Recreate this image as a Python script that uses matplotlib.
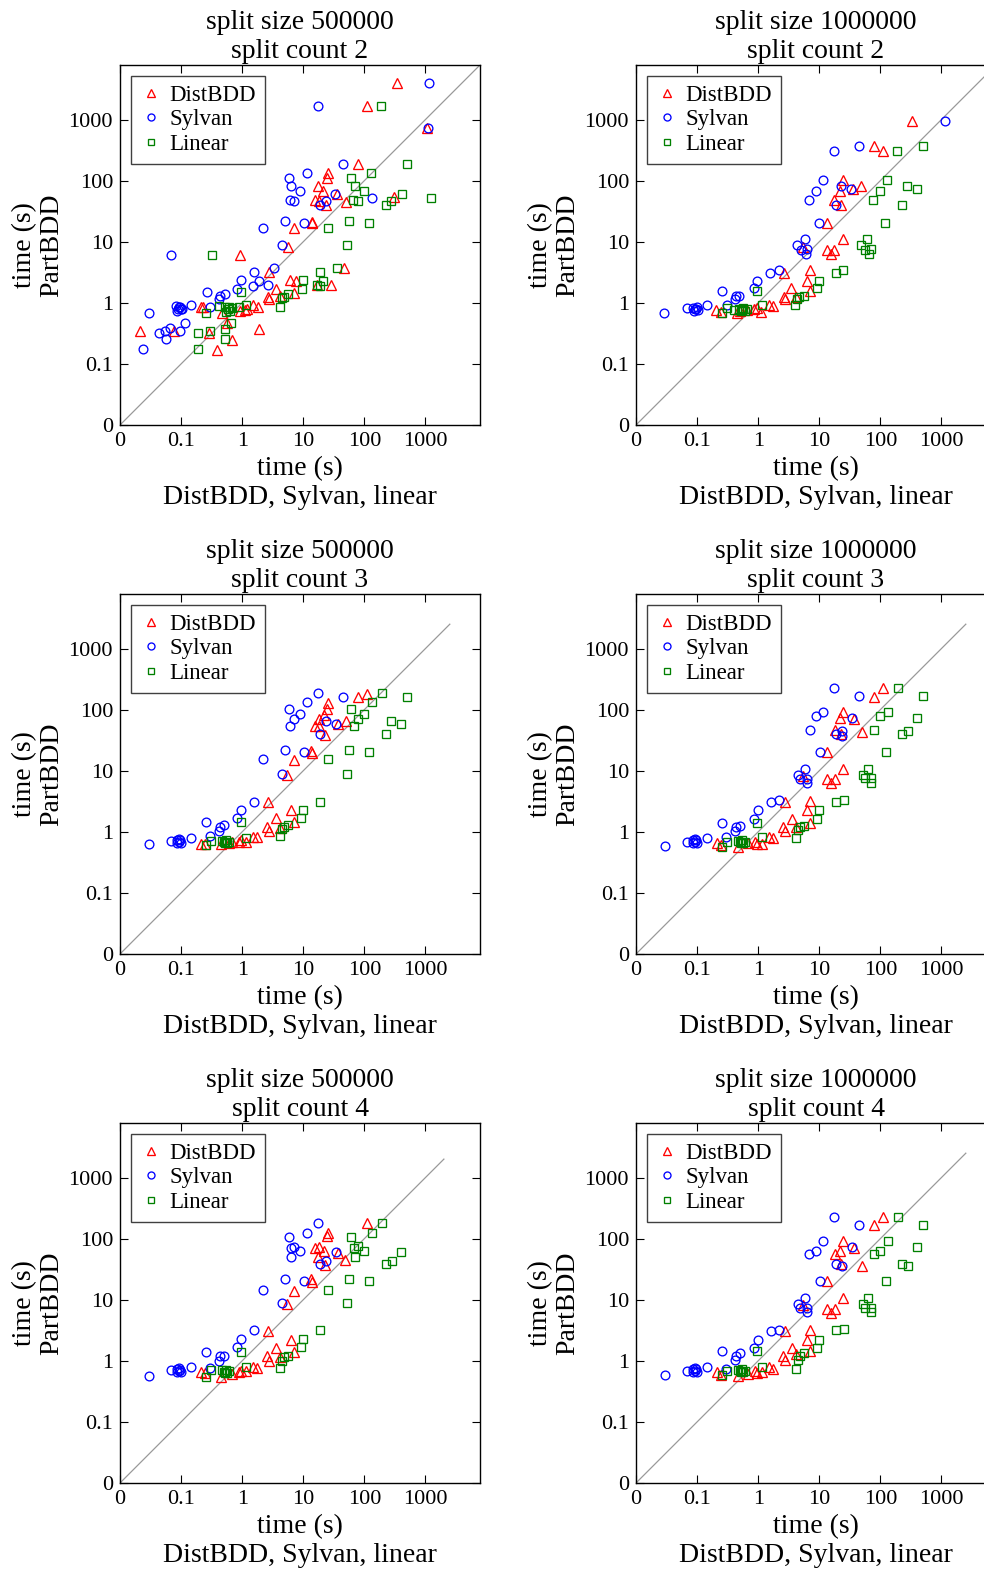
import matplotlib
matplotlib.use('Agg')
import matplotlib.pyplot as plt

plt.rcParams['font.family'] = ['Liberation Serif', 'DejaVu Serif']

# ---------------- data ----------------
split_sizes = [500000, 1000000]
split_counts = [2, 3, 4]
tick_values = [0.01, 0.1, 1, 10, 100, 1000]
tick_labels = ['0', '0.1', '1', '10', '100', '1000']
series_names = ['DistBDD', 'Sylvan', 'Linear']

# split size 500000, split count 2
p1_dist_x = [340, 110, 1050, 80, 25, 24, 17.5, 21, 15.5, 18, 23.5, 35, 50, 310, 13.7, 14, 7.1, 5.6, 0.92, 47,
             2.7, 6.1, 7.5, 28, 3.6, 7.0, 2.6, 2.75, 4.1, 0.21, 0.23, 0.46, 0.92, 1.18, 1.5, 1.8, 0.57, 1.87,
             0.021, 0.076, 0.29, 0.69, 0.38, 1.1, 17]
p1_dist_y = [4000, 1650, 730, 185, 135, 112, 82, 68, 48, 46, 40, 60, 45, 53, 21.4, 20, 16.6, 8.3, 6.0, 3.7,
             3.2, 2.35, 2.3, 1.95, 1.7, 1.45, 1.26, 1.15, 1.3, 0.84, 0.84, 0.67, 0.74, 0.78, 0.91, 0.84, 0.46, 0.37,
             0.35, 0.34, 0.32, 0.25, 0.17, 0.75, 1.95]
p1_syl_x = [1130, 17.5, 1100, 44, 11.7, 5.8, 6.2, 8.8, 33, 6.0, 7.0, 23.6, 19, 132, 5.0, 10.2, 2.2, 4.4, 0.069,
            3.3, 1.58, 0.96, 1.9, 2.6, 1.5, 0.83, 0.27, 0.52, 0.44, 0.42, 0.147, 0.30, 0.083, 0.092, 0.098, 0.086,
            0.105, 0.095, 0.089, 0.030, 0.114, 0.067, 0.095, 0.054, 0.044, 0.057, 0.024]
p1_syl_y = [4000, 1670, 730, 186, 135, 112, 83, 68, 61, 48, 46, 46, 40, 52, 22, 20.5, 16.6, 8.7, 6.0, 3.7,
            3.2, 2.35, 2.3, 1.95, 1.9, 1.7, 1.5, 1.38, 1.29, 1.16, 0.92, 0.84, 0.90, 0.84, 0.78, 0.74,
            0.78, 0.86, 0.80, 0.69, 0.46, 0.38, 0.35, 0.35, 0.32, 0.26, 0.175]
p1_lin_x = [190, 500, 129, 61, 70, 100, 405, 1250, 66, 79, 270, 228, 57, 121, 25, 51, 0.32, 35, 18.7, 10,
            21, 17, 18.7, 9.4, 0.94, 5.6, 4.9, 4.5, 1.17, 0.42, 4.1, 0.26, 0.53, 0.58, 0.64, 0.55, 0.69, 0.6,
            0.65, 0.30, 0.19, 0.53, 0.52, 0.19, 0.9]
p1_lin_y = [1670, 186, 135, 112, 83, 68, 61, 51, 48, 46, 46, 40, 22, 20.5, 16.6, 8.7, 6.0, 3.7, 3.2, 2.35,
            2.3, 1.95, 1.9, 1.7, 1.5, 1.38, 1.26, 1.18, 0.93, 0.89, 0.84, 0.67, 0.84, 0.78, 0.74, 0.72, 0.82, 0.86,
            0.46, 0.35, 0.32, 0.37, 0.26, 0.175, 0.85]

# split size 1000000, split count 2
p2_dist_x = [335, 78, 110, 24.5, 48, 35.5, 21.5, 17.7, 23, 13.4, 24, 5.4, 13.4, 17.7, 15.6, 7.0, 2.65, 6.2,
             3.5, 7.0, 2.6, 2.7, 4.2, 1.49, 1.78, 0.205, 0.245, 0.45, 0.84, 0.95, 1.12, 0.65, 0.5]
p2_dist_y = [950, 370, 308, 102, 83, 74, 68, 49, 40, 20.5, 11, 8.3, 7.3, 7.3, 6.4, 3.45, 3.1, 2.3,
             1.73, 1.55, 1.26, 1.15, 1.23, 0.91, 0.89, 0.76, 0.71, 0.67, 0.79, 0.81, 0.71, 0.76, 0.74]
p2_syl_x = [1120, 44, 17.3, 11.5, 23, 33, 8.7, 6.9, 18.8, 10, 5.8, 4.3, 5.0, 6.2, 6.0, 2.2, 1.55, 0.96, 0.84,
            0.26, 0.49, 0.42, 0.44, 0.31, 0.145, 0.068, 0.085, 0.093, 0.1, 0.105, 0.089, 0.095, 0.029]
p2_syl_y = [950, 370, 308, 102, 83, 74, 68, 49, 40, 20.5, 11, 8.8, 7.3, 7.5, 6.4, 3.5, 3.1, 2.3, 1.73,
            1.55, 1.3, 1.16, 1.28, 0.91, 0.92, 0.82, 0.81, 0.78, 0.84, 0.76, 0.74, 0.79, 0.69]
p2_lin_x = [490, 186, 126, 270, 400, 98, 77, 225, 120, 60, 49, 56, 69, 66, 24.7, 18.6, 10, 9.3, 0.95, 5.6,
            4.7, 4.3, 4.0, 1.15, 0.31, 0.49, 0.54, 0.57, 0.61, 0.52, 0.65, 0.26, 0.4]
p2_lin_y = [370, 308, 102, 83, 74, 68, 49, 40, 20.5, 11, 8.8, 7.3, 7.5, 6.4, 3.5, 3.1, 2.3, 1.73, 1.55, 1.3,
            1.23, 1.15, 0.91, 0.92, 0.82, 0.78, 0.76, 0.81, 0.74, 0.73, 0.78, 0.69, 0.76]

# split size 500000, split count 3
p3_dist_x = [110, 79, 25, 24.7, 21.7, 18.3, 50, 37, 15.5, 18, 23, 13.5, 13.7, 7.1, 5.5, 2.64, 6.3, 3.6, 7.0,
             2.5, 2.75, 4.2, 1.78, 1.48, 1.14, 0.89, 0.97, 0.69, 0.45, 0.245, 0.21, 0.6]
p3_dist_y = [180, 160, 127, 102, 82, 69, 66, 58, 53, 53, 39, 21, 19.4, 15, 8.5, 3.1, 2.3, 1.66, 1.44,
             1.18, 1.05, 1.15, 0.83, 0.81, 0.69, 0.69, 0.73, 0.67, 0.63, 0.63, 0.63, 0.66]
p3_syl_x = [17.5, 45, 11.7, 5.9, 8.9, 7.0, 23.7, 34, 6.0, 19, 5.0, 10.1, 2.19, 4.4, 1.58, 0.96, 0.83, 0.26,
            0.51, 0.43, 0.42, 0.30, 0.145, 0.068, 0.085, 0.091, 0.096, 0.101, 0.087, 0.094, 0.030]
p3_syl_y = [186, 162, 132, 104, 85, 71, 66, 58, 54, 40, 22, 20, 15.5, 8.7, 3.1, 2.3, 1.66, 1.44,
            1.29, 1.18, 1.05, 0.86, 0.80, 0.72, 0.74, 0.69, 0.74, 0.66, 0.65, 0.77, 0.64]
p3_lin_x = [194, 500, 131, 61, 100, 78, 275, 400, 68, 227, 57, 121, 25, 51, 18.7, 10, 9.3, 0.96, 5.7, 4.8,
            4.4, 4.1, 1.15, 0.31, 0.47, 0.50, 0.54, 0.57, 0.52, 0.6, 0.26]
p3_lin_y = [186, 162, 132, 104, 85, 71, 66, 58, 54, 40, 22, 20, 15.5, 8.8, 3.1, 2.3, 1.66, 1.44, 1.29, 1.2,
            1.1, 0.86, 0.80, 0.72, 0.72, 0.68, 0.74, 0.66, 0.65, 0.69, 0.61]

# split size 1000000, split count 3
p4_dist_x = [112, 79, 24.6, 21.7, 37, 18.2, 23, 50, 13.5, 5.5, 24.6, 13.5, 18, 15.8, 7.1, 2.7, 6.3, 3.6, 7.0,
             2.5, 2.75, 4.2, 1.78, 1.48, 1.14, 0.89, 0.97, 0.69, 0.46, 0.245, 0.21]
p4_dist_y = [224, 163, 90, 74, 69, 47, 40, 43, 20, 8.3, 10.7, 7.4, 7.3, 6.2, 3.2, 3.1, 2.24, 1.59, 1.41,
             1.18, 1.05, 1.18, 0.78, 0.81, 0.63, 0.67, 0.63, 0.66, 0.56, 0.6, 0.66]
p4_syl_x = [17.5, 45, 11.7, 8.9, 34, 7.0, 23.7, 19, 23.7, 10.2, 5.9, 4.4, 4.9, 6.4, 6.2, 2.2, 1.59, 0.98, 0.84,
            0.26, 0.51, 0.44, 0.42, 0.30, 0.145, 0.068, 0.085, 0.091, 0.096, 0.101, 0.087, 0.094, 0.030]
p4_syl_y = [224, 165, 92, 78, 73, 47, 44, 40, 37, 20, 10.8, 8.5, 7.4, 7.4, 6.2, 3.3, 3.1, 2.24, 1.59,
            1.4, 1.24, 1.18, 1.02, 0.81, 0.80, 0.69, 0.74, 0.69, 0.74, 0.66, 0.65, 0.77, 0.58]
p4_lin_x = [194, 500, 131, 100, 400, 78, 278, 227, 122, 62, 51, 57, 71, 70, 25.6, 18.7, 10, 9.3, 0.96, 5.7,
            4.8, 4.4, 4.1, 1.15, 0.31, 0.47, 0.50, 0.54, 0.57, 0.52, 0.6, 0.26]
p4_lin_y = [224, 165, 92, 78, 73, 47, 44, 40, 20, 10.8, 8.5, 7.6, 7.5, 6.2, 3.3, 3.1, 2.24, 1.59, 1.41, 1.24,
            1.18, 1.06, 0.79, 0.81, 0.69, 0.72, 0.68, 0.74, 0.66, 0.65, 0.69, 0.57]

# split size 500000, split count 4
p5_dist_x = [110, 25, 24.7, 18, 15.5, 21.7, 37, 17.7, 49, 23, 13.5, 13.7, 7.1, 5.5, 2.64, 6.3, 3.6, 7.0, 2.5,
             2.75, 4.2, 1.78, 1.48, 1.14, 0.89, 0.97, 0.69, 0.45, 0.245, 0.21]
p5_dist_y = [180, 124, 110, 74, 70, 63, 58, 50, 44, 37, 21.5, 19.4, 14, 8.5, 3.1, 2.2, 1.63, 1.41, 1.18,
             1.0, 1.15, 0.76, 0.79, 0.69, 0.65, 0.68, 0.6, 0.55, 0.62, 0.65]
p5_syl_x = [17.5, 11.7, 5.9, 7.0, 6.3, 8.9, 34, 6.3, 23.7, 19, 5.0, 10.2, 2.19, 4.4, 1.58, 0.96, 0.83, 0.26,
            0.51, 0.43, 0.42, 0.30, 0.145, 0.068, 0.085, 0.091, 0.096, 0.101, 0.087, 0.094, 0.030]
p5_syl_y = [180, 124, 107, 74, 70, 63, 61, 50, 43, 39, 22, 20, 14.5, 8.7, 3.15, 2.25, 1.67, 1.4,
            1.21, 1.18, 1.0, 0.77, 0.79, 0.70, 0.74, 0.69, 0.72, 0.66, 0.65, 0.75, 0.56]
p5_lin_x = [194, 131, 61, 68, 78, 100, 400, 69, 278, 227, 57, 121, 25, 51, 18.7, 10, 9.3, 0.96, 5.7, 4.8,
            4.4, 4.1, 1.15, 0.31, 0.47, 0.50, 0.54, 0.57, 0.52, 0.6, 0.26]
p5_lin_y = [180, 125, 107, 69, 75, 63, 60, 50, 43, 39, 22, 20, 14.5, 8.8, 3.15, 2.25, 1.67, 1.4, 1.21, 1.16,
            1.0, 0.77, 0.79, 0.72, 0.70, 0.66, 0.72, 0.64, 0.63, 0.68, 0.55]

# split size 1000000, split count 4
p6_dist_x = [112, 79, 24.6, 21.7, 18.2, 37, 23, 50, 13.5, 5.5, 24.6, 13.5, 18, 15.8, 7.1, 2.7, 6.3, 3.6, 7.0,
             2.5, 2.75, 4.2, 1.78, 1.48, 1.14, 0.89, 0.97, 0.69, 0.46, 0.245, 0.21]
p6_dist_y = [224, 166, 92, 62, 56, 69, 38, 35, 20, 8.3, 10.7, 7.1, 7.1, 6.1, 3.2, 3.1, 2.2, 1.6, 1.44,
             1.18, 1.05, 1.3, 0.74, 0.79, 0.65, 0.68, 0.63, 0.6, 0.57, 0.59, 0.65]
p6_syl_x = [17.5, 45, 11.7, 8.9, 6.9, 34, 19, 23.7, 10.2, 5.9, 4.4, 4.9, 6.4, 6.2, 2.2, 1.59, 0.98, 0.84, 0.26,
            0.51, 0.44, 0.42, 0.30, 0.145, 0.068, 0.085, 0.091, 0.096, 0.101, 0.087, 0.094, 0.030]
p6_syl_y = [224, 166, 92, 63, 56, 72, 39, 35, 20, 10.7, 8.5, 7.2, 7.3, 6.2, 3.2, 3.1, 2.2, 1.6, 1.47,
            1.36, 1.2, 1.05, 0.74, 0.79, 0.69, 0.74, 0.69, 0.74, 0.66, 0.65, 0.77, 0.59]
p6_lin_x = [194, 500, 131, 100, 80, 400, 227, 278, 122, 62, 51, 57, 71, 70, 25.6, 18.7, 10, 9.3, 0.96, 5.7,
            4.8, 4.4, 4.1, 1.15, 0.31, 0.47, 0.50, 0.54, 0.57, 0.52, 0.6, 0.26]
p6_lin_y = [224, 166, 92, 63, 56, 72, 39, 35, 20, 10.7, 8.5, 7.2, 7.3, 6.2, 3.3, 3.2, 2.2, 1.6, 1.47, 1.36,
            1.2, 1.05, 0.74, 0.79, 0.69, 0.72, 0.68, 0.74, 0.66, 0.65, 0.69, 0.59]

panels = [
    [(p1_dist_x, p1_dist_y), (p1_syl_x, p1_syl_y), (p1_lin_x, p1_lin_y)],
    [(p2_dist_x, p2_dist_y), (p2_syl_x, p2_syl_y), (p2_lin_x, p2_lin_y)],
    [(p3_dist_x, p3_dist_y), (p3_syl_x, p3_syl_y), (p3_lin_x, p3_lin_y)],
    [(p4_dist_x, p4_dist_y), (p4_syl_x, p4_syl_y), (p4_lin_x, p4_lin_y)],
    [(p5_dist_x, p5_dist_y), (p5_syl_x, p5_syl_y), (p5_lin_x, p5_lin_y)],
    [(p6_dist_x, p6_dist_y), (p6_syl_x, p6_syl_y), (p6_lin_x, p6_lin_y)],
]

# ---------------- style ----------------
W, H = 984, 1569
DPI = 100
fig = plt.figure(figsize=(W / DPI, H / DPI), dpi=DPI)
fig.patch.set_facecolor('white')

markers = ['^', 'o', 's']
colors = ['#ff0000', '#0000ff', '#008000']
msizes = [7.2, 6.3, 5.6]

col_left = [120, 636]
row_top = [65, 594, 1123]
SIZE = 360
LIMS = (0.01, 7800)

k = 0
for r, count in enumerate(split_counts):
    for c, ssize in enumerate(split_sizes):
        data = panels[k]
        k += 1
        left = col_left[c]
        top = row_top[r]
        ax = fig.add_axes([left / W, 1 - (top + SIZE) / H, SIZE / W, SIZE / H])
        ax.set_xscale('log')
        ax.set_yscale('log')
        vmax = max(max(max(xs), max(ys)) for xs, ys in data)
        ax.plot([LIMS[0], 5 * vmax], [LIMS[0], 5 * vmax], color='0.6', lw=0.9, zorder=1)
        handles = []
        for (xs, ys), m, col, ms, name in zip(data, markers, colors, msizes, series_names):
            h, = ax.plot(xs, ys, linestyle='none', marker=m, markersize=ms, markerfacecolor='none',
                         markeredgecolor=col, markeredgewidth=0.95, label=name, zorder=3)
            handles.append(h)
        ax.set_xlim(*LIMS)
        ax.set_ylim(*LIMS)
        ax.set_xticks(tick_values)
        ax.set_xticklabels(tick_labels)
        ax.set_yticks(tick_values)
        ax.set_yticklabels(tick_labels)
        ax.minorticks_off()
        ax.tick_params(direction='in', top=True, right=True, length=5.5, width=0.8,
                       labelsize=16, pad=5)
        for sp in ax.spines.values():
            sp.set_linewidth(1.0)
        ax.set_title(f'split size {ssize}\nsplit count {count}', fontsize=20, linespacing=1.2, pad=5)
        ax.set_xlabel('time (s)\nDistBDD, Sylvan, linear', fontsize=20, linespacing=1.2, labelpad=4)
        ax.set_ylabel('time (s)\nPartBDD', fontsize=20, linespacing=1.1, labelpad=3)
        leg = ax.legend(handles=handles, loc='upper left', numpoints=1, fontsize=16.5, markerscale=0.8,
                        fancybox=False, framealpha=1, edgecolor='0.25', borderpad=0.4,
                        labelspacing=0.15, handlelength=1.0, handletextpad=0.3,
                        borderaxespad=0.47)
        leg.get_frame().set_linewidth(1.0)

fig.savefig('out.png', dpi=DPI)
